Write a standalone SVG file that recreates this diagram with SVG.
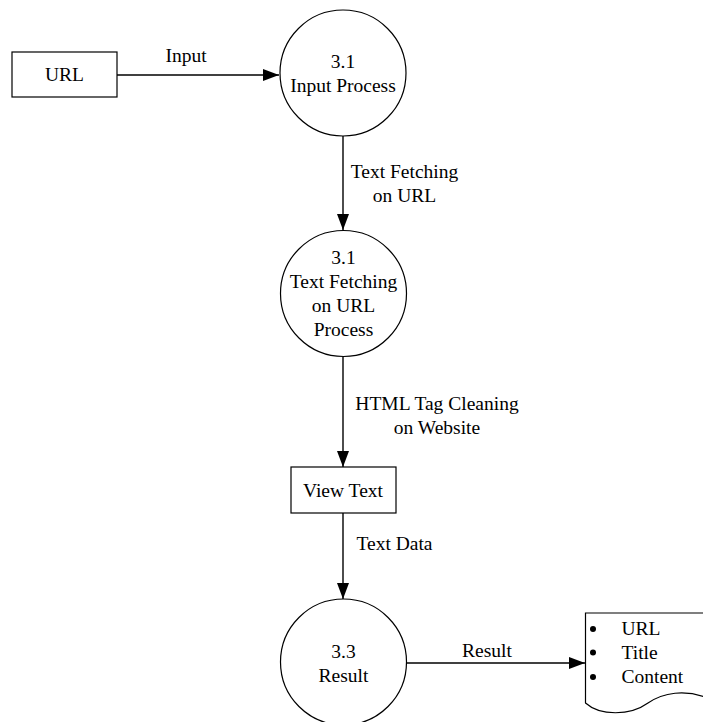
<svg xmlns="http://www.w3.org/2000/svg" width="703" height="722" viewBox="0 0 703 722">
<style>
text{font-family:"Liberation Serif","Times New Roman",serif;font-size:19.5px;fill:#000;text-anchor:middle}
.shape{fill:#fff;stroke:#000;stroke-width:1.2}
.edge{fill:none;stroke:#000;stroke-width:1.4}
.l{text-anchor:start}
</style>
<defs>
<marker id="arr" markerUnits="userSpaceOnUse" markerWidth="17" markerHeight="13" refX="16" refY="6" orient="auto">
<path d="M0,0 L16,6 L0,12 z" fill="#000"/>
</marker>
</defs>
<rect width="703" height="722" fill="#fff"/>
<g id="connectors">
<line class="edge" x1="117" y1="75" x2="279" y2="75" marker-end="url(#arr)"/>
<text x="186" y="62">Input</text>
<line class="edge" x1="343" y1="136" x2="343" y2="230" marker-end="url(#arr)"/>
<text x="404.5" y="178">Text Fetching</text>
<text x="404.5" y="201.5">on URL</text>
<line class="edge" x1="343" y1="357" x2="343" y2="467" marker-end="url(#arr)"/>
<text x="437" y="410">HTML Tag Cleaning</text>
<text x="437" y="433.5">on Website</text>
<line class="edge" x1="343" y1="513" x2="343" y2="599" marker-end="url(#arr)"/>
<text x="394.5" y="550">Text Data</text>
<line class="edge" x1="407" y1="663" x2="585" y2="663" marker-end="url(#arr)"/>
<text x="487" y="657">Result</text>
</g>
<g id="url">
<rect class="shape" x="12" y="52" width="105" height="45"/>
<text x="64.5" y="80.5">URL</text>
</g>
<g id="p1">
<circle class="shape" cx="343" cy="73" r="63"/>
<text x="343" y="67.5">3.1</text>
<text x="343" y="91.5">Input Process</text>
</g>
<g id="p2">
<circle class="shape" cx="343.5" cy="293.5" r="63"/>
<text x="343.5" y="264">3.1</text>
<text x="343.5" y="288">Text Fetching</text>
<text x="343.5" y="312">on URL</text>
<text x="343.5" y="335.5">Process</text>
</g>
<g id="viewtext">
<rect class="shape" x="291" y="467" width="105" height="46"/>
<text x="343" y="497">View Text</text>
</g>
<g id="p3">
<circle class="shape" cx="343.5" cy="662" r="63"/>
<text x="343.5" y="658">3.3</text>
<text x="343.5" y="682">Result</text>
</g>
<g id="doc">
<path class="shape" d="M705,613 L585.5,613 L585.5,703 C600,716 630,716 648,703 C664,692 685,690 705,697"/>
<circle cx="593" cy="629" r="3"/>
<circle cx="593" cy="652.5" r="3"/>
<circle cx="593" cy="677" r="3"/>
<text class="l" x="621.5" y="635">URL</text>
<text class="l" x="621.5" y="658.5">Title</text>
<text class="l" x="621.5" y="683">Content</text>
</g>
</svg>
